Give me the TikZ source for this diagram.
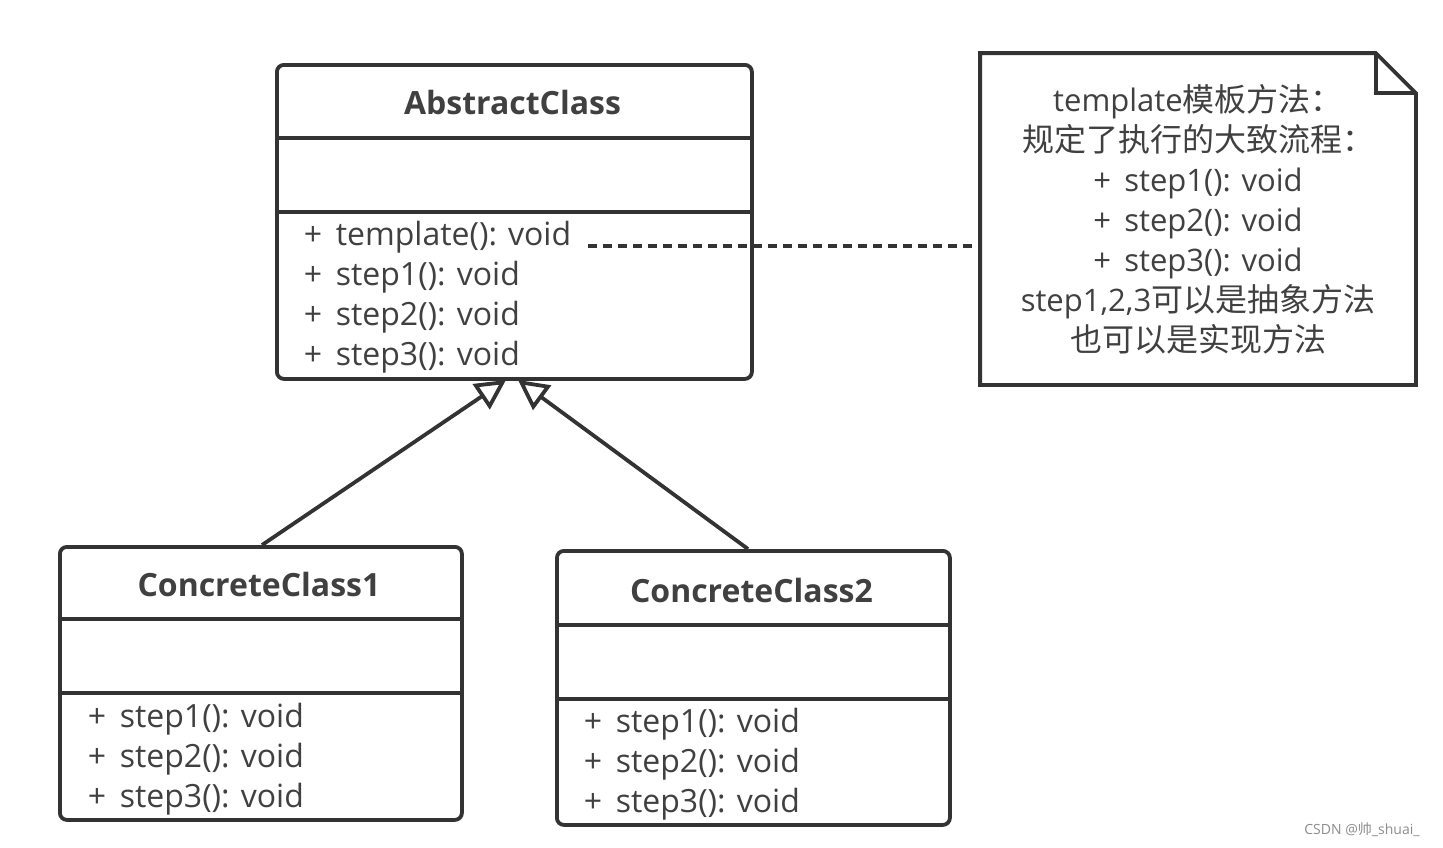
\documentclass[tikz,border=0pt]{standalone}
\usepackage{fontspec}
\setmainfont{Open Sans}
\newfontfamily\cjk{Noto Sans CJK SC}
\usetikzlibrary{arrows.meta}
\definecolor{ln}{HTML}{333333}
\definecolor{tx}{HTML}{404040}
\newcommand{\zh}[1]{{\cjk\fontsize{32}{40}\selectfont #1}}
\begin{document}
\begin{tikzpicture}[x=1pt,y=-1pt,line width=3.8pt,
  box/.style={draw=ln,rounded corners=7pt,anchor=north west,inner sep=0pt},
  ttl/.style={text=tx,font=\fontsize{32}{36}\selectfont\bfseries,inner sep=0pt},
  meth/.style={text=tx,font=\fontsize{32}{36}\selectfont,anchor=west,inner sep=0pt},
  div/.style={draw=ln,line width=3.8pt},
  inh/.style={draw=ln,-{Triangle[open,length=30pt,width=30pt]}},
  lnk/.style={draw=ln,dash pattern=on 9pt off 6pt}]
\useasboundingbox (0,0) rectangle (1443,847);
% AbstractClass
\node[box,minimum width=475pt,minimum height=314pt] (abs) at (275,63) {};
\node[ttl] (absT) at (512.5,102) {AbstractClass};
\draw[div] (abs.west |- 0,138) -- (abs.east |- 0,138);
\draw[div] (abs.west |- 0,212) -- (abs.east |- 0,212);
\node[meth] (absM0) at (302,237) {+\, template(): void};
\node[meth] (absM1) at (302,277) {+\, step1(): void};
\node[meth] (absM2) at (302,317) {+\, step2(): void};
\node[meth] (absM3) at (302,357) {+\, step3(): void};
% ConcreteClass1
\node[box,minimum width=402pt,minimum height=273pt] (c1) at (58,545) {};
\node[ttl] (c1T) at (259,584) {ConcreteClass1};
\draw[div] (c1.west |- 0,619) -- (c1.east |- 0,619);
\draw[div] (c1.west |- 0,693) -- (c1.east |- 0,693);
\node[meth] (c1M1) at (86,719) {+\, step1(): void};
\node[meth] (c1M2) at (86,759) {+\, step2(): void};
\node[meth] (c1M3) at (86,799) {+\, step3(): void};
% ConcreteClass2
\node[box,minimum width=393pt,minimum height=274pt] (c2) at (555,549) {};
\node[ttl] (c2T) at (751.5,590) {ConcreteClass2};
\draw[div] (c2.west |- 0,625) -- (c2.east |- 0,625);
\draw[div] (c2.west |- 0,699) -- (c2.east |- 0,699);
\node[meth] (c2M1) at (582,724) {+\, step1(): void};
\node[meth] (c2M2) at (582,764) {+\, step2(): void};
\node[meth] (c2M3) at (582,804) {+\, step3(): void};
% Note
\node[minimum width=432pt,minimum height=328pt,inner sep=0pt] (note) at (1198,219) {};
\draw[ln,line join=miter] (note.north west) -- ([xshift=-40pt]note.north east) -- ([yshift=-40pt]note.north east) -- (note.south east) -- (note.south west) -- cycle;
\draw[ln,line join=miter] ([xshift=-40pt]note.north east) -- ([xshift=-40pt,yshift=-40pt]note.north east) -- ([yshift=-40pt]note.north east);
\node[text=tx,align=center,font=\fontsize{31}{40}\selectfont,inner sep=0pt] (noteT) at (1198,219)
  {template\zh{模板方法：}\\\zh{规定了执行的大致流程：}\\+\, step1(): void\\+\, step2(): void\\+\, step3(): void\\step1,2,3\zh{可以是抽象方法}\\\zh{也可以是实现方法}};
% connectors
\coordinate (dstart) at (588,246);
\draw[lnk] (dstart) -- (note.west |- dstart);
\coordinate (t1) at (506,380);
\coordinate (t2) at (518,380);
\draw[inh] (c1.north -| 262,0) -- (t1);
\draw[inh] (c2.north -| 748,0) -- (t2);
% watermark
\node[text=black!45,font=\fontsize{14}{14}\selectfont,inner sep=0pt] (wm) at (1362,830) {CSDN @{\cjk 帅}\_shuai\_};
\end{tikzpicture}
\end{document}
